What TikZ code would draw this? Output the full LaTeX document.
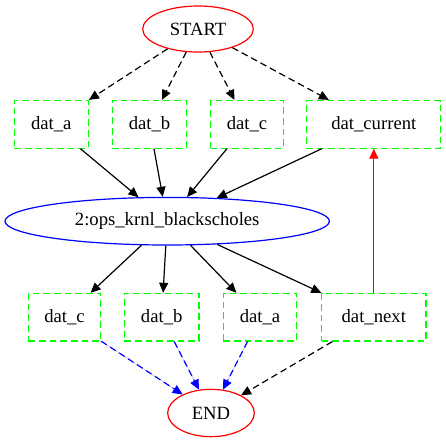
\documentclass[tikz,border=0pt]{standalone}
\usepackage{fontspec}
\setmainfont{Liberation Serif}
\usetikzlibrary{shapes.geometric,arrows.meta}
\definecolor{gvgreen}{RGB}{0,255,0}
\definecolor{gvred}{RGB}{255,0,0}
\definecolor{gvblue}{RGB}{0,0,255}
\tikzset{
  every node/.style={font=\fontsize{14pt}{16pt}\selectfont, inner sep=0pt},
  ell/.style={draw, ellipse, line width=0.9pt},
  databox/.style={draw=gvgreen, rectangle, line width=0.9pt, dash pattern=on 5pt off 3pt, minimum height=35.7pt},
  conn/.style={line width=0.9pt, -{Triangle[length=7.5pt,width=6.75pt]}},
  dashconn/.style={conn, dash pattern=on 5pt off 3pt},
}
\begin{document}
\begin{tikzpicture}[x=0.75pt,y=-0.75pt]
\useasboundingbox (0,0) rectangle (446,443);
\node[ell, draw=gvred, minimum width=82.95pt, minimum height=34.5pt] (start) at (198,29) {START};
\node[databox, minimum width=55.5pt] (ta) at (51.3,124.3) {dat\_a};
\node[databox, minimum width=55.8pt] (tb) at (149.5,124.3) {dat\_b};
\node[databox, minimum width=54.45pt] (tc) at (247,124.3) {dat\_c};
\node[databox, minimum width=100.5pt] (tcur) at (373.8,124.3) {dat\_current};
\node[ell, draw=gvblue, minimum width=243.3pt, minimum height=35.7pt] (ops) at (167.2,221.2) {2:ops\_krnl\_blackscholes};
\node[databox, minimum width=54.3pt] (bc) at (64.5,317.2) {dat\_c};
\node[databox, minimum width=56pt] (bb) at (161.7,317.2) {dat\_b};
\node[databox, minimum width=55pt] (ba) at (260,317.2) {dat\_a};
\node[databox, minimum width=78.2pt] (bn) at (373.8,317.2) {dat\_next};
\node[ell, draw=gvred, minimum width=65pt, minimum height=35.5pt] (end) at (211,413) {END};

\draw[dashconn] (start) -- (ta);
\draw[dashconn] (start) -- (tb);
\draw[dashconn] (start) -- (tc);
\draw[dashconn] (start) -- (tcur);
\draw[conn] (ta) -- (ops);
\draw[conn] (tb) -- (ops);
\draw[conn] (tc) -- (ops);
\draw[conn] (tcur) -- (ops);
\draw[conn] (ops) -- (bc);
\draw[conn] (ops) -- (bb);
\draw[conn] (ops) -- (ba);
\draw[conn] (ops) -- (bn);
\draw[conn, draw=gvred, fill=gvred] (bn) -- (tcur);
\draw[dashconn, draw=gvblue, fill=gvblue] (bc) -- (end);
\draw[dashconn, draw=gvblue, fill=gvblue] (bb) -- (end);
\draw[dashconn, draw=gvblue, fill=gvblue] (ba) -- (end);
\draw[dashconn] (bn) -- (end);
\end{tikzpicture}
\end{document}
